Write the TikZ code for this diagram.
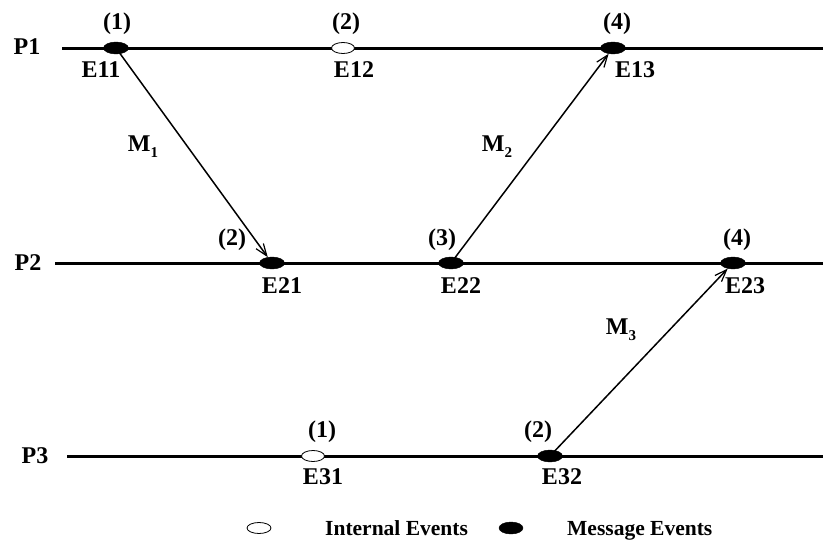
\documentclass[tikz,border=0pt]{standalone}
\usepackage{fontspec}
\setmainfont{Liberation Serif}
\usetikzlibrary{arrows.meta,shapes.geometric}
\begin{document}
\begin{tikzpicture}[x=1pt,y=-1pt,
  proc/.style={line width=3pt},
  msgev/.style={ellipse,fill=black,draw=black,minimum width=25pt,minimum height=12pt,inner sep=0pt},
  intev/.style={ellipse,fill=white,draw=black,line width=0.8pt,minimum width=23pt,minimum height=11pt,inner sep=0pt},
  lbl/.style={font=\fontsize{24}{24}\selectfont\bfseries,inner sep=0pt},
  leg/.style={font=\fontsize{21.5}{21.5}\selectfont\bfseries,inner sep=0pt,anchor=base west},
  msg/.style={line width=1.5pt,-{Straight Barb[length=12pt,width=9pt,line width=1.2pt]}}]
\newcommand{\msub}[1]{M\raisebox{-6pt}{\fontsize{15}{15}\selectfont #1}}
\path[use as bounding box] (0,0) rectangle (823,539);
% process lines
\coordinate (p1s) at (62,48);  \coordinate (p1e) at (823,48);
\coordinate (p2s) at (55,263); \coordinate (p2e) at (823,263);
\coordinate (p3s) at (67,456); \coordinate (p3e) at (823,456);
\draw[proc] (p1s) -- (p1e);
\draw[proc] (p2s) -- (p2e);
\draw[proc] (p3s) -- (p3e);
\node[lbl] (lp1) at (27,47) {P1};
\node[lbl] (lp2) at (28,263) {P2};
\node[lbl] (lp3) at (35,456) {P3};
% events
\node[msgev] (e11) at (116,48) {};
\node[intev] (e12) at (343,48) {};
\node[msgev] (e13) at (613,48) {};
\node[msgev] (e21) at (272,263) {};
\node[msgev] (e22) at (451,263) {};
\node[msgev] (e23) at (733,263) {};
\node[intev] (e31) at (313,456) {};
\node[msgev] (e32) at (550,456) {};
% event labels
\node[lbl] (t11) at (101,70) {E11};
\node[lbl] (t12) at (354,70) {E12};
\node[lbl] (t13) at (635,70) {E13};
\node[lbl] (t21) at (282,286) {E21};
\node[lbl] (t22) at (461,286) {E22};
\node[lbl] (t23) at (745,286) {E23};
\node[lbl] (t31) at (323,477) {E31};
\node[lbl] (t32) at (562,477) {E32};
% clocks
\node[lbl] (c11) at (117,24) {(1)};
\node[lbl] (c12) at (346,24) {(2)};
\node[lbl] (c13) at (617,24) {(4)};
\node[lbl] (c21) at (232,240) {(2)};
\node[lbl] (c22) at (442,240) {(3)};
\node[lbl] (c23) at (737,240) {(4)};
\node[lbl] (c31) at (322,432) {(1)};
\node[lbl] (c32) at (538,432) {(2)};
% messages
\draw[msg] (e11.center) -- (e21);
\draw[msg] (e22.center) -- (e13);
\draw[msg] (e32.center) -- (e23);
\node[lbl] (m1) at (143,147) {\msub{1}};
\node[lbl] (m2) at (497,147) {\msub{2}};
\node[lbl] (m3) at (621,330) {\msub{3}};
% legend
\node[intev,minimum width=24pt,minimum height=11pt] (li) at (259,528) {};
\node[leg] (lit) at (325,535) {Internal Events};
\node[msgev,minimum width=24pt,minimum height=12pt] (lm) at (511,528) {};
\node[leg] (lmt) at (567,535) {Message Events};
\end{tikzpicture}
\end{document}
